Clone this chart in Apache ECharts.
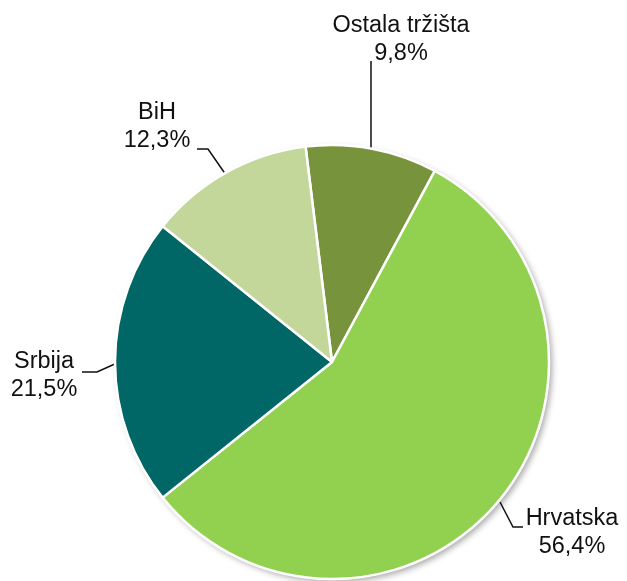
<!DOCTYPE html>
<html>
<head>
<meta charset="utf-8">
<script src="https://cdn.jsdelivr.net/npm/echarts@6/dist/echarts.min.js"></script>
<style>
html,body{margin:0;padding:0;background:#fff;}
#main{width:627px;height:581px;}
</style>
</head>
<body>
<div id="main"></div>
<script>
var names=['Ostala tržišta','Hrvatska','Srbija','BiH'];
var values=[9.8,56.4,21.5,12.3];
var colors=['#77933c','#92d050','#006666','#c4d79b'];

// label boxes and leader lines, Excel style
var labelPos=[
    {x:401,y:40,line:[[371,148],[371,100],[371,61]]},
    {x:572,y:533,line:[[500,502],[513,527],[523,527]]},
    {x:44,y:376,line:[[117,363],[97,372],[82,372]]},
    {x:157,y:127,line:[[226,175],[208,149],[197,149]]}
];

var pieData=names.map(function(n,i){
    return {name:n,value:values[i],itemStyle:{color:colors[i]}};
});

var Myecharts=echarts.init(document.getElementById('main'));
var option={
    animation:false,
    series:[{
        type:'pie',
        silent:true,
        center:[332,362],
        radius:217,
        startAngle:97,
        clockwise:true,
        z:1,
        data:values.map(function(v){return {value:v};}),
        itemStyle:{
            color:'#fff',
            shadowBlur:6,
            shadowOffsetX:3,
            shadowOffsetY:3,
            shadowColor:'rgba(0,0,0,0.35)'
        },
        label:{show:false},
        labelLine:{show:false}
    },{
        type:'pie',
        center:[332,362],
        radius:217,
        startAngle:97,
        clockwise:true,
        z:2,
        data:pieData,
        itemStyle:{
            borderColor:'#fff',
            borderWidth:2.5
        },
        label:{
            show:true,
            position:'outside',
            overflow:'none',
            width:200,
            fontFamily:'Liberation Sans, Arial, sans-serif',
            fontSize:23.5,
            lineHeight:28,
            color:'#111',
            align:'center',
            formatter:function(p){
                return p.name+'\n'+p.value.toFixed(1).replace('.',',')+'%';
            }
        },
        labelLine:{
            show:true,
            lineStyle:{color:'#111',width:1.5}
        },
        labelLayout:function(params){
            var l=labelPos[params.dataIndex];
            return {
                x:l.x,
                y:l.y,
                align:'center',
                verticalAlign:'middle',
                labelLinePoints:l.line
            };
        }
    }]
};
Myecharts.setOption(option);
</script>
</body>
</html>
